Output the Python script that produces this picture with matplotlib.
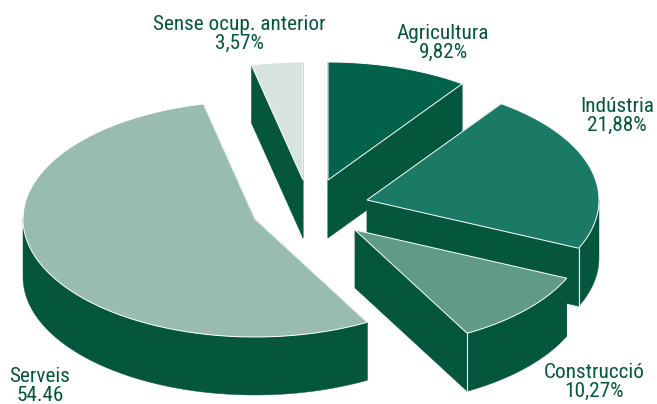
# plot.py
import numpy as np
import matplotlib
matplotlib.use('Agg')
import matplotlib.pyplot as plt
from matplotlib import font_manager

# data
categories = ['Agricultura', 'Indústria', 'Construcció', 'Serveis', 'Sense ocup. anterior']
shares = [9.82, 21.88, 10.27, 54.46, 3.57]
share_labels = ['9,82%', '21,88%', '10,27%', '54.46', '3,57%']

# layout, in pixels of the picture
apex_x = [328, 367, 355, 255, 303]
apex_y = [180, 200, 230, 219, 180]
label_x = [443, 617, 594, 40, 239]
label_y = [43, 116, 382, 386, 34]
top_colors = ['#03624a', '#1b7a65', '#5f9b87', '#98bcb0', '#d6e3df']
side_color = '#04573c'
text_color = '#04573c'
rx, ry, depth = 232, 118, 58

names = set(f.name for f in font_manager.fontManager.ttflist)
font = 'Liberation Sans'
for candidate in ['Roboto Condensed', 'Archivo Narrow', 'PT Sans Narrow']:
    if candidate in names:
        font = candidate
        break

fig = plt.figure(figsize=(6.57, 4.04), dpi=100)
ax = fig.add_axes([0, 0, 1, 1])
ax.set_xlim(0, 657)
ax.set_ylim(404, 0)
ax.axis('off')

# angles clockwise from the top of the ellipse
ends = np.cumsum(shares) / np.sum(shares) * 2 * np.pi
starts = np.concatenate([[0], ends[:-1]])


def rim(cx, cy, t):
    return cx + rx * np.sin(t), cy - ry * np.cos(t)


def face(xa, ya, xb, yb):
    ax.fill([xa, xb, xb, xa], [ya, yb, yb + depth, ya + depth],
            color=side_color, lw=0.3)


# back to front so the near slices cover the far ones
for i in [4, 0, 1, 3, 2]:
    t = np.linspace(starts[i], ends[i], 150)
    x, y = rim(apex_x[i], apex_y[i], t)

    # the two cut faces
    face(apex_x[i], apex_y[i], x[0], y[0])
    face(apex_x[i], apex_y[i], x[-1], y[-1])

    # outer wall, only the part that faces the viewer
    lo = max(starts[i], np.pi / 2)
    hi = min(ends[i], 3 * np.pi / 2)
    if lo < hi:
        tw = np.linspace(lo, hi, 150)
        wx, wy = rim(apex_x[i], apex_y[i], tw)
        ax.fill(np.concatenate([wx, wx[::-1]]),
                np.concatenate([wy, wy[::-1] + depth]),
                color=side_color, lw=0.3)

    # white corner where a cut face meets the outer wall
    if np.pi / 2 < ends[i] < 3 * np.pi / 2:
        ax.plot([x[-1], x[-1]], [y[-1], y[-1] + depth], color='white', lw=0.8,
                solid_capstyle='butt')

    ax.fill(np.concatenate([[apex_x[i]], x]), np.concatenate([[apex_y[i]], y]),
            facecolor=top_colors[i], edgecolor='white', lw=0.7, joinstyle='miter')

for i in range(len(categories)):
    ax.text(label_x[i], label_y[i], categories[i] + '\n' + share_labels[i],
            ha='center', va='center', color=text_color,
            family=font, fontsize=15.3, linespacing=0.95, zorder=5,
            multialignment='center')

fig.savefig('out.png', dpi=100)
